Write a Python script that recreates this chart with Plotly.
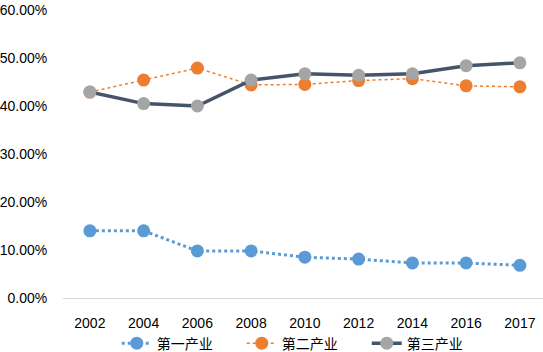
import plotly.graph_objects as go

years = ["2002", "2004", "2006", "2008", "2010", "2012", "2014", "2016", "2017"]
primary = [0.140, 0.140, 0.098, 0.098, 0.085, 0.081, 0.073, 0.073, 0.068]
secondary = [0.429, 0.454, 0.479, 0.444, 0.445, 0.453, 0.457, 0.442, 0.440]
tertiary = [0.429, 0.405, 0.400, 0.454, 0.467, 0.464, 0.467, 0.484, 0.490]
names = ["第一产业", "第二产业", "第三产业"]

FONT = "Liberation Sans, Arial, Noto Sans CJK SC, sans-serif"

fig = go.Figure()
fig.add_trace(go.Scatter(x=years, y=primary, name=names[0], mode="lines+markers",
                         line=dict(color="#5B9BD5", width=3, dash="dot"),
                         marker=dict(color="#5B9BD5", size=13)))
fig.add_trace(go.Scatter(x=years, y=secondary, name=names[1], mode="lines+markers",
                         line=dict(color="#ED7D31", width=1.5, dash="dot"),
                         marker=dict(color="#ED7D31", size=13)))
fig.add_trace(go.Scatter(x=years, y=tertiary, name=names[2], mode="lines+markers",
                         line=dict(color="#44546A", width=3.5),
                         marker=dict(color="#A5A5A5", size=13)))

fig.update_layout(
    width=543, height=352,
    margin=dict(l=63, r=0, t=10, b=54),
    paper_bgcolor="white", plot_bgcolor="white",
    font=dict(family=FONT, size=14, color="#000000"),
    showlegend=True,
    legend=dict(orientation="h", xref="container", yref="container",
                x=0.215, xanchor="left", y=0.024, yanchor="middle",
                bgcolor="rgba(0,0,0,0)",
                font=dict(size=14, family="Noto Sans CJK SC, sans-serif"),
                entrywidth=80, entrywidthmode="pixels"),
    xaxis=dict(type="category", range=[-0.5, 8.43], showgrid=False, zeroline=False,
               showline=True, linecolor="#D9D9D9", linewidth=1, automargin=False,
               ticks="outside", ticklen=12, tickcolor="rgba(0,0,0,0)",
               tickfont=dict(size=14)),
    yaxis=dict(range=[0, 0.6], tickvals=[0, 0.1, 0.2, 0.3, 0.4, 0.5, 0.6],
               tickformat=".2%", showgrid=False, zeroline=False, showline=False,
               automargin=False,
               ticks="outside", ticklen=12, tickcolor="rgba(0,0,0,0)",
               tickfont=dict(size=14)),
)

fig.write_html("out.html", config={"displayModeBar": False},
               post_script="document.body.style.margin='0';document.body.style.overflow='hidden';")
